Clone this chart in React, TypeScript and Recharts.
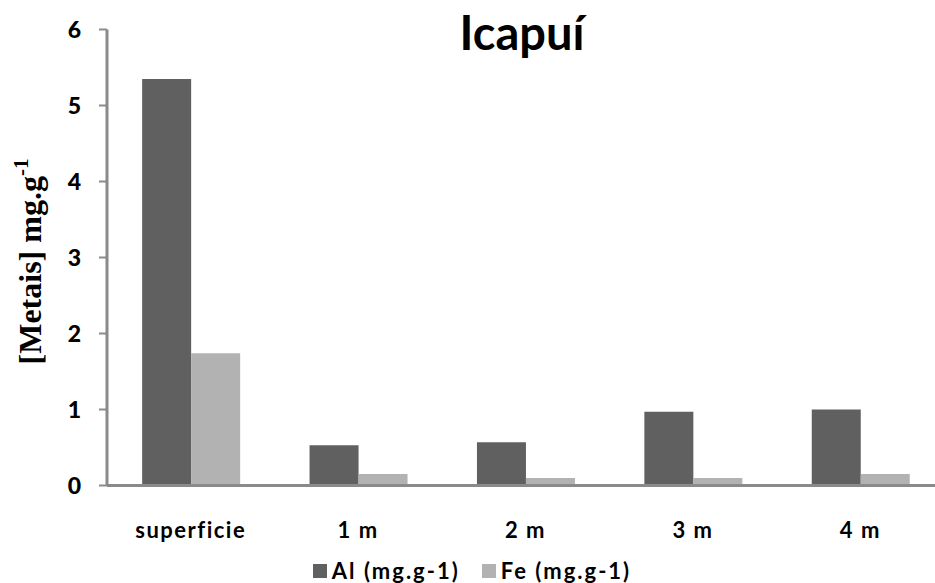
import React from 'react';
import { BarChart, Bar, XAxis, YAxis, Legend, Label } from 'recharts';

const categories = ['superficie', '1 m', '2 m', '3 m', '4 m'];
const alValues = [5.35, 0.53, 0.57, 0.97, 1.0];
const feValues = [1.74, 0.15, 0.1, 0.1, 0.15];
const yTicks = [0, 1, 2, 3, 4, 5, 6];
const seriesNames = { al: 'Al (mg.g-1)', fe: 'Fe (mg.g-1)' };
const title = 'Icapuí';

const data = categories.map((c, i) => ({ name: c, al: alValues[i], fe: feValues[i] }));

const AL_COLOR = '#606060';
const FE_COLOR = '#b2b2b2';
const AXIS_COLOR = '#8a8a8a';
const SANS = 'Lato, "Open Sans", sans-serif';
const SERIF = '"Liberation Serif", "DejaVu Serif", serif';

const XTick = (props: any) => {
  const { x, y, payload } = props;
  return (
    <text x={x} y={y} dy={52} textAnchor="middle" fontFamily={SANS} fontWeight={700} fontSize={22} letterSpacing={1.5} fill="#000">
      {payload.value}
    </text>
  );
};

const YTick = (props: any) => {
  const { x, y, payload } = props;
  return (
    <text x={x} y={y} dy={8} textAnchor="end" fontFamily={SANS} fontWeight={900} fontSize={23} fill="#000">
      {payload.value}
    </text>
  );
};

const YLabel = (props: any) => {
  const vb = props.viewBox || { x: 0, y: 0, width: 0, height: 0 };
  const cx = vb.x + 41;
  const cy = vb.y + vb.height / 2 + 4;
  return (
    <text
      x={cx}
      y={cy}
      transform={`rotate(-90, ${cx}, ${cy})`}
      textAnchor="middle"
      fontFamily={SERIF}
      fontWeight={700}
      fontSize={32}
      fill="#000"
    >
      [Metais] mg.g
      <tspan fontSize={21} dy={-13}>-1</tspan>
    </text>
  );
};

const LegendContent = (props: any) => {
  const items = props.payload || [];
  return (
    <div style={{ display: 'flex', justifyContent: 'center', alignItems: 'center', height: 24, gap: 22 }}>
      {items.map((it: any) => (
        <div key={it.value} style={{ display: 'flex', alignItems: 'center' }}>
          <span style={{ display: 'inline-block', width: 14, height: 14, background: it.color, marginRight: 5 }} />
          <span style={{ fontFamily: SANS, fontWeight: 700, fontSize: 22, letterSpacing: 2, lineHeight: '24px', color: '#000' }}>{it.value}</span>
        </div>
      ))}
    </div>
  );
};

export default function App() {
  return (
    <div style={{ position: 'absolute', left: 0, top: 0, width: 935, height: 583, overflow: 'hidden', background: '#fff' }}>
      <BarChart
        width={950}
        height={583}
        data={data}
        margin={{ top: 29.5, right: 6, left: 0, bottom: 0 }}
        barCategoryGap="21%"
        barGap={0}
      >
        <XAxis
          dataKey="name"
          axisLine={{ stroke: AXIS_COLOR, strokeWidth: 3 }}
          tickLine={false}
          tickSize={0}
          tickMargin={0}
          height={73.5}
          tick={<XTick />}
          interval={0}
        />
        <YAxis
          width={107}
          domain={[0, 6]}
          ticks={yTicks}
          interval={0}
          axisLine={{ stroke: AXIS_COLOR, strokeWidth: 3 }}
          tickLine={{ stroke: AXIS_COLOR, strokeWidth: 2 }}
          tickSize={8}
          tickMargin={18}
          tick={<YTick />}
        >
          <Label content={<YLabel />} />
        </YAxis>
        <Legend verticalAlign="bottom" align="center" height={24} content={<LegendContent />} wrapperStyle={{ height: 24 }} />
        <Bar dataKey="al" name={seriesNames.al} fill={AL_COLOR} isAnimationActive={false} />
        <Bar dataKey="fe" name={seriesNames.fe} fill={FE_COLOR} isAnimationActive={false} />
      </BarChart>
      <svg width={935} height={80} style={{ position: 'absolute', left: 0, top: 0, pointerEvents: 'none' }}>
        <text x={522} y={50} textAnchor="middle" fontFamily={SANS} fontWeight={700} fontSize={47} fill="#000">
          {title}
        </text>
      </svg>
    </div>
  );
}
